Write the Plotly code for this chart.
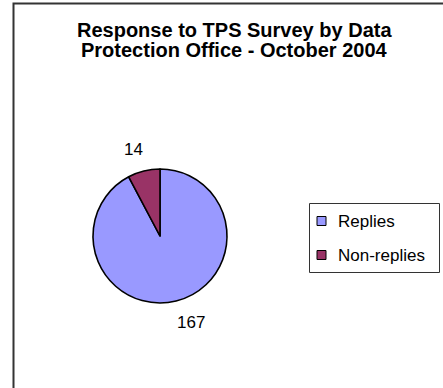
import plotly.graph_objects as go

# Survey response counts
labels = ["Replies", "Non-replies"]
values = [167, 14]
colors = ["#9999FF", "#993366"]

title_lines = ["Response to TPS Survey by Data", "Protection Office - October 2004"]

W, H = 443, 388
FONT = "Liberation Sans, Arial, sans-serif"


def px(x):
    return x / W


def py(y):
    return 1 - y / H


# pie geometry (pixels)
cx, cy, r = 160, 236, 67

fig = go.Figure(
    go.Pie(
        labels=labels,
        values=values,
        marker=dict(colors=colors, line=dict(color="black", width=1.6)),
        sort=False,
        direction="clockwise",
        rotation=0,
        textinfo="none",
        hoverinfo="label+value",
        showlegend=False,
        domain=dict(x=[px(cx - r), px(cx + r)], y=[py(cy + r), py(cy - r)]),
    )
)

shapes = [
    # outer chart frame
    dict(type="rect", xref="paper", yref="paper",
         x0=px(13.5), x1=px(460), y0=py(420), y1=py(3.5),
         line=dict(color="#333333", width=2), fillcolor="rgba(0,0,0,0)"),
    # legend frame
    dict(type="rect", xref="paper", yref="paper",
         x0=px(309.5), x1=px(439.5), y0=py(272.5), y1=py(203.5),
         line=dict(color="#333333", width=1), fillcolor="white"),
]

annotations = []
for i, line in enumerate(title_lines):
    annotations.append(dict(
        text=f"<b>{line}</b>", xref="paper", yref="paper",
        x=px(234), y=py(30 + 20 * i), xanchor="center", yanchor="middle",
        showarrow=False, font=dict(family=FONT, size=20, color="black"),
    ))

# legend entries
row_y = [221, 255]
for lab, col, yy in zip(labels, colors, row_y):
    shapes.append(dict(type="rect", xref="paper", yref="paper",
                       x0=px(317), x1=px(326), y0=py(yy + 4.5), y1=py(yy - 4.5),
                       line=dict(color="black", width=1), fillcolor=col))
    annotations.append(dict(
        text=lab, xref="paper", yref="paper", x=px(336), y=py(yy),
        xanchor="left", yanchor="middle", showarrow=False,
        font=dict(family=FONT, size=17, color="black"),
    ))

# value labels next to the slices
label_pos = [(191, 322), (133, 149)]
for v, (lx, ly) in zip(values, label_pos):
    annotations.append(dict(
        text=str(v), xref="paper", yref="paper", x=px(lx), y=py(ly),
        xanchor="center", yanchor="middle", showarrow=False,
        font=dict(family=FONT, size=17, color="black"),
    ))

fig.update_layout(
    width=W, height=H,
    margin=dict(l=0, r=0, t=0, b=0),
    paper_bgcolor="white",
    plot_bgcolor="white",
    shapes=shapes,
    annotations=annotations,
)

fig.write_html("out.html", config={"displayModeBar": False})
